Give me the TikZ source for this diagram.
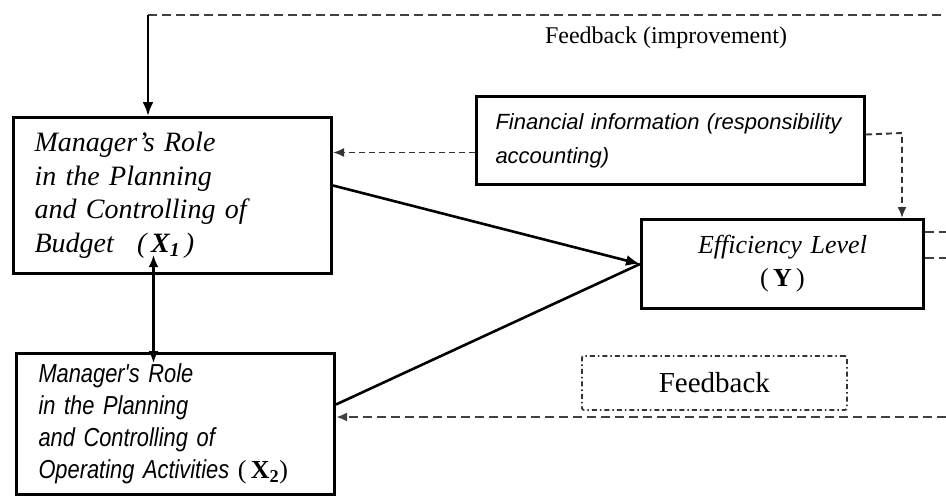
\documentclass[tikz,border=0pt]{standalone}
\usepackage{fontspec}
\setmainfont{Liberation Serif}
\newfontfamily\sansf{Liberation Sans}
\newfontfamily\sansn[FakeStretch=0.84]{Liberation Sans}
\usetikzlibrary{arrows.meta}
\begin{document}
\begin{tikzpicture}[x=1pt,y=-1pt,
  box/.style={draw,line width=3pt,anchor=north west,inner ysep=0pt},
  solidarr/.style={line width=2.6pt,-{Latex[length=14pt,width=11pt]}},
  fbline/.style={line width=2.2pt,draw=black!75,dash pattern=on 9pt off 5pt},
  finline/.style={line width=1.9pt,draw=black!80,dash pattern=on 6pt off 4pt},
  smalltip/.style={-{Latex[length=11pt,width=9pt]}}]
\useasboundingbox (0,0) rectangle (946,496);
% boxes
\node[box,minimum width=318pt,minimum height=156pt,text width=276pt,inner xsep=21pt,align=left,
  font=\fontsize{28}{33.5}\selectfont\itshape] (x1) at (12,116)
  {Manager's Role\\in the Planning\\and Controlling of\\Budget\ \ \,(\,\textbf{X}\textsubscript{\textbf{1}}\,)};
\node[box,minimum width=318pt,minimum height=141pt,text width=274pt,inner xsep=22pt,align=left,
  font=\fontsize{26}{32}\selectfont] (x2) at (15,352)
  {\sansn\itshape Manager's Role\\\sansn\itshape in the Planning\\\sansn\itshape and Controlling of\\\sansn\itshape Operating Activities {\rmfamily\upshape(\,\textbf{X}\textsubscript{\textbf{2}})}};
\node[box,minimum width=388pt,minimum height=88pt,text width=356pt,inner xsep=16pt,align=left,
  font=\fontsize{22}{34}\selectfont\sansf\itshape] (fin) at (475,95)
  {\hspace*{3pt}Financial information (responsibility\\\hspace*{3pt}accounting)};
\node[box,minimum width=282pt,minimum height=89pt,text width=262pt,inner xsep=10pt,align=center,
  font=\fontsize{26}{33}\selectfont] (y) at (640,218)
  {{\itshape Efficiency Level}\\{\upshape(\,\textbf{Y}\,)}};
\node[draw,line width=1.8pt,draw=black!80,dash pattern=on 5pt off 3pt on 1.5pt off 3pt,rounded corners=2pt,
  minimum width=265pt,minimum height=54pt,anchor=north west,font=\fontsize{29}{32}\selectfont] (fb) at (581,355) {Feedback};
\node[font=\fontsize{24}{28}\selectfont] (fbt) at (666,38) {Feedback (improvement)};
% coordinates
\coordinate (top) at (148,15);
\coordinate (topR) at (946,15);
\coordinate (fc) at (902,133);
\coordinate (r1) at (946,232);
\coordinate (r2) at (946,258);
\coordinate (r3) at (946,417);
% feedback top
\draw[fbline] (top) -- (topR);
\draw[solidarr] (top) -- (top |- x1.north);
% financial info
\draw[finline,smalltip] ([yshift=-12pt]fin.west) -- ([yshift=-12pt]fin.west -| x1.east);
\draw[finline,smalltip] ([yshift=6pt]fin.east) -- (fc) -- (fc |- y.north);
% main arrows
\draw[solidarr] ([yshift=10pt]x1.east) -- (y.west);
\draw[line width=2.6pt] ([yshift=19.5pt]x2.east) -- (y.west);
\draw[line width=2.4pt,{Latex[length=12pt,width=10pt]}-{Latex[length=12pt,width=10pt]}] ([xshift=-19pt,yshift=20pt]x1.south) -- ([xshift=-22pt,yshift=-11pt]x2.north);
% right side
\draw[fbline] (y.east |- r1) -- (r1);
\draw[fbline] (y.east |- r2) -- (r2);
\draw[fbline,smalltip] (r3) -- (x2.east |- r3);
\end{tikzpicture}
\end{document}
